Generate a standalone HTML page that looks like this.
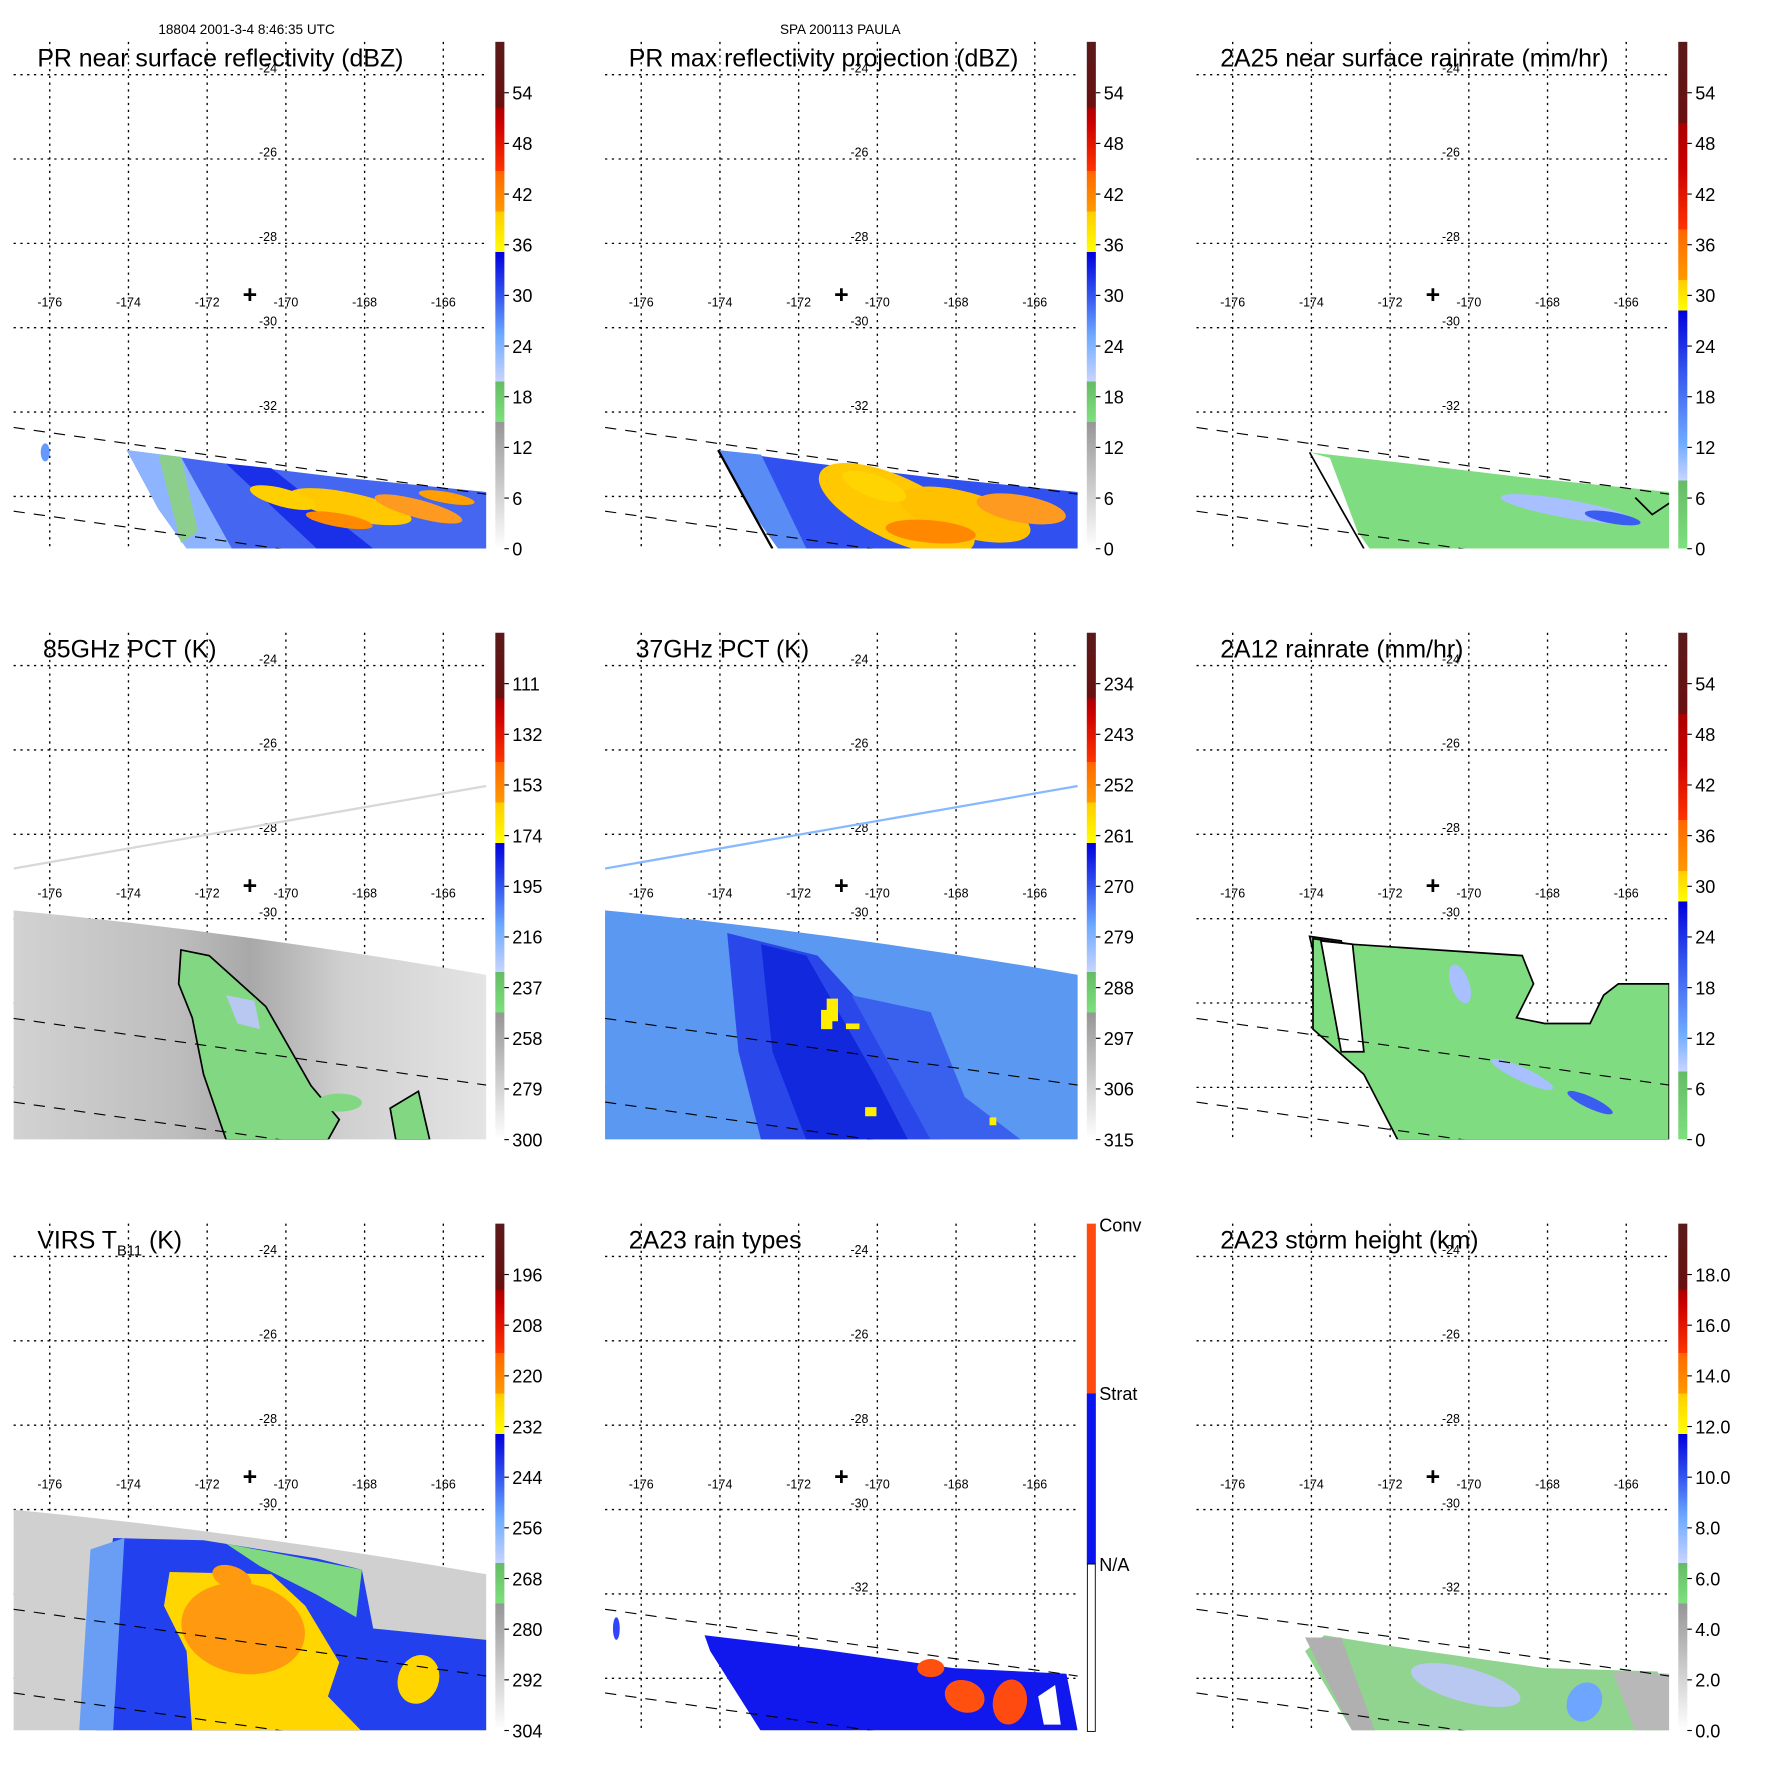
<!DOCTYPE html>
<html><head><meta charset="utf-8"><style>
html,body{margin:0;padding:0;background:#fff}
svg{display:block}
text{font-family:"Liberation Sans",sans-serif}
</style></head><body>
<svg id="s" width="1771" height="1771" viewBox="0 0 1566 1566" xmlns="http://www.w3.org/2000/svg">
<defs>
<linearGradient id="cbA" x1="0" y1="1" x2="0" y2="0">
<stop offset="0" stop-color="#ffffff"/><stop offset="0.25" stop-color="#969696"/>
<stop offset="0.25" stop-color="#7de07d"/><stop offset="0.33" stop-color="#66bb66"/>
<stop offset="0.33" stop-color="#c8d4ff"/><stop offset="0.42" stop-color="#6eaaff"/><stop offset="0.5" stop-color="#3355ee"/><stop offset="0.585" stop-color="#0000dd"/>
<stop offset="0.585" stop-color="#ffff00"/><stop offset="0.665" stop-color="#ffcc00"/>
<stop offset="0.665" stop-color="#ff9900"/><stop offset="0.745" stop-color="#ff6600"/>
<stop offset="0.745" stop-color="#ff3300"/><stop offset="0.84" stop-color="#cc0000"/><stop offset="0.87" stop-color="#aa0000"/>
<stop offset="0.87" stop-color="#6a1010"/><stop offset="1" stop-color="#5a1a1a"/>
</linearGradient>
<linearGradient id="cbC" x1="0" y1="1" x2="0" y2="0">
<stop offset="0" stop-color="#7de07d"/><stop offset="0.134" stop-color="#66bb66"/>
<stop offset="0.134" stop-color="#c8d4ff"/><stop offset="0.21" stop-color="#6eaaff"/><stop offset="0.35" stop-color="#3355ee"/><stop offset="0.47" stop-color="#0000dd"/>
<stop offset="0.47" stop-color="#ffff00"/><stop offset="0.53" stop-color="#ffcc00"/>
<stop offset="0.53" stop-color="#ff9900"/><stop offset="0.63" stop-color="#ff6600"/>
<stop offset="0.63" stop-color="#ff3300"/><stop offset="0.75" stop-color="#cc0000"/><stop offset="0.84" stop-color="#aa0000"/>
<stop offset="0.84" stop-color="#6a1010"/><stop offset="1" stop-color="#5a1a1a"/>
</linearGradient>
<linearGradient id="grayband" x1="0" y1="0" x2="1" y2="0">
<stop offset="0" stop-color="#d2d2d2"/><stop offset="0.35" stop-color="#bdbdbd"/><stop offset="0.5" stop-color="#a8a8a8"/><stop offset="0.7" stop-color="#d0d0d0"/><stop offset="1" stop-color="#e4e4e4"/>
</linearGradient>
</defs>
<g id="root"></g>
</svg>
<script>
var R=document.getElementById('root');var NS='http://www.w3.org/2000/svg';
function el(t,a,txt){var e=document.createElementNS(NS,t);for(var k in a)e.setAttribute(k,a[k]);if(txt!==undefined)e.textContent=txt;R.appendChild(e);return e;}
var cols=[0,523,1046],rows=[0,522.5,1045];
var titles=[["PR near surface reflectivity (dBZ)",33],["PR max reflectivity projection (dBZ)",33],["2A25 near surface rainrate (mm/hr)",33],
["85GHz PCT (K)",38],["37GHz PCT (K)",39],["2A12 rainrate (mm/hr)",33],[null,33],["2A23 rain types",33],["2A23 storm height (km)",33]];
var labs=[["54","48","42","36","30","24","18","12","6","0"],["54","48","42","36","30","24","18","12","6","0"],["54","48","42","36","30","24","18","12","6","0"],
["111","132","153","174","195","216","237","258","279","300"],["234","243","252","261","270","279","288","297","306","315"],["54","48","42","36","30","24","18","12","6","0"],
["196","208","220","232","244","256","268","280","292","304"],null,["18.0","16.0","14.0","12.0","10.0","8.0","6.0","4.0","2.0","0.0"]];
var cb=["cbA","cbA","cbC","cbA","cbA","cbC","cbA",null,"cbA"];
var pl="abcdefghi";
function data(i,ox,oy){
 function P(pts,f,extra){var s=pts.map(function(p){return (p[0]+ox)+','+(p[1]+oy)}).join(' ');var a={points:s,fill:f};for(var k in extra)a[k]=extra[k];el('polygon',a);}
 function E(x,y,rx,ry,f,rot){el('ellipse',{cx:x+ox,cy:y+oy,rx:rx,ry:ry,fill:f,transform:'rotate('+(rot||0)+' '+(x+ox)+' '+(y+oy)+')'});}
 var sw1=[[112,398],[200,410],[300,422],[430,435],[430,485],[165,485],[140,450]];
 if(i==0){P(sw1,'#4466f0');P([[112,398],[160,404],[205,485],[165,485],[140,450]],'#8fb4ff');P([[140,402],[160,404],[175,470],[160,480]],'#8ccf8c');
  P([[200,410],[240,414],[330,485],[280,485]],'#1a2fe8');
  E(310,448,55,12,'#ffc800',12);E(250,440,30,8,'#ffd000',15);E(370,450,40,8,'#ff9a20',15);E(300,460,30,6,'#ff8a00',10);E(395,440,25,5,'#ffa000',10);
  E(40,400,4,8,'#6699ff',0);}
 if(i==1){P(sw1,'#3050f0');P([[112,398],[150,402],[190,485],[165,485],[140,450]],'#5a8cf5');
  E(270,450,75,28,'#ffc800',25);E(330,455,60,20,'#ffc000',15);E(380,450,40,12,'#ff9a20',10);E(250,430,30,10,'#ffd400',20);E(300,470,40,10,'#ff8800',5);
  el('polyline',{points:[[112+ox,398+oy],[135+ox,440+oy],[160+ox,485+oy]].join(' '),fill:'none',stroke:'#000','stroke-width':2});}
 if(i==2){P([[112,400],[200,410],[300,422],[430,435],[430,485],[165,485],[140,450]],'#80dc80');
  P([[112,400],[130,405],[160,485],[150,485]],'#ffffff');
  E(340,450,60,8,'#a8c0ff',10);E(380,458,25,5,'#3a5cf0',10);
  el('polyline',{points:[[112+ox,400+oy],[140+ox,450+oy],[160+ox,485+oy]].join(' '),fill:'none',stroke:'#000','stroke-width':1.5});
  el('polyline',{points:[[400+ox,440+oy],[415+ox,455+oy],[430+ox,445+oy]].join(' '),fill:'none',stroke:'#000','stroke-width':1.5});}
 if(i==3){el('path',{d:'M'+(12+ox)+','+(805+oy)+' Q'+(220+ox)+','+(825+oy)+' '+(430+ox)+','+(862+oy)+' L'+(430+ox)+',1008 L'+(12+ox)+',1008 Z',fill:'url(#grayband)'});
  P([[160,840],[185,845],[235,890],[275,960],[300,990],[290,1008],[200,1008],[180,950],[170,900],[158,870]],'#82d882',{stroke:'#000','stroke-width':1.5});
  P([[200,880],[225,885],[230,910],[210,905]],'#b8c8f0');
  P([[345,980],[370,965],[380,1008],[350,1008]],'#82d882',{stroke:'#000','stroke-width':1.5});
  E(300,975,20,8,'#82d882',0);
  el('line',{x1:12+ox,y1:768+oy,x2:430+ox,y2:695+oy,stroke:'#d8d8d8','stroke-width':2});}
 if(i==4){el('path',{d:'M'+(12+ox)+','+(805+oy)+' Q'+(220+ox)+','+(825+oy)+' '+(430+ox)+','+(862+oy)+' L'+(430+ox)+',1008 L'+(12+ox)+',1008 Z',fill:'#5a98f2'});
  P([[120,825],[200,845],[250,900],[310,1008],[150,1008],[130,930]],'#2a48ea');
  P([[150,835],[190,845],[250,950],[280,1008],[190,1008],[160,930]],'#1228dd');
  P([[230,880],[300,895],[330,970],[380,1008],[300,1008]],'#3a60ee');
  P([[203,893],[213,893],[213,910],[203,910]],'#ffee00');P([[208,883],[218,883],[218,903],[208,903]],'#ffee00');
  P([[225,905],[237,905],[237,910],[225,910]],'#ffee00');P([[352,988],[358,988],[358,995],[352,995]],'#ffee00');
  P([[242,979],[252,979],[252,987],[242,987]],'#ffee00');
  el('line',{x1:12+ox,y1:768+oy,x2:430+ox,y2:695+oy,stroke:'#88b8ff','stroke-width':2});}
 if(i==5){P([[112,828],[140,832],[160,905],[130,905]],'#80dc80',{stroke:'#000','stroke-width':1.5});
  P([[150,835],[300,845],[310,870],[295,900],[320,905],[360,905],[372,880],[385,870],[430,870],[430,1008],[190,1008],[160,950],[115,910],[115,830]],'#80dc80',{stroke:'#000','stroke-width':1.5});
  P([[122,832],[150,835],[160,930],[140,930]],'#ffffff',{stroke:'#000','stroke-width':1.5});
  E(300,950,30,6,'#a8c0ff',25);E(360,975,22,5,'#3a5cf0',25);E(245,870,8,18,'#a8c0ff',-20);}
 if(i==6){el('path',{d:'M'+(12+ox)+','+(1335+oy-1045)+' Q'+(220+ox)+','+(1355+oy-1045)+' '+(430+ox)+','+(1392+oy-1045)+' L'+(430+ox)+','+(1531)+' L'+(12+ox)+',1531 Z',fill:'#d0d0d0'});
  P([[100,1360],[180,1362],[280,1378],[320,1388],[330,1440],[430,1450],[430,1531],[85,1531],[90,1420]].map(function(p){return [p[0],p[1]-1045]}),'#2240ee');
  P([[80,1370],[110,1360],[100,1531],[70,1531]].map(function(p){return [p[0],p[1]-1045]}),'#6a9ef5');
  P([[200,1365],[320,1388],[315,1430],[280,1410],[230,1385]].map(function(p){return [p[0],p[1]-1045]}),'#80d880');
  P([[150,1390],[240,1392],[270,1420],[300,1470],[290,1500],[320,1531],[170,1531],[165,1460],[145,1420]].map(function(p){return [p[0],p[1]-1045]}),'#ffd600');
  E(215,1440-1045,55,40,'#ff9a10',10);E(205,1395-1045,18,10,'#ff9a10',20);
  E(370,1485-1045,18,22,'#ffd600',20);}
 if(i==7){P([[100,1446],[200,1458],[320,1475],[420,1480],[430,1531],[150,1531],[105,1460]].map(function(p){return [p[0]+0,p[1]-1045]}),'#1018ee');
  E(330,1500-1045,18,14,'#ff5010',20);E(370,1505-1045,15,20,'#ff4a10',10);E(300,1475-1045,12,8,'#ff5010',0);
  P([[395,1500],[410,1490],[415,1525],[400,1525]].map(function(p){return [p[0],p[1]-1045]}),'#ffffff');
  E(22,1440-1045,3,10,'#3344ff',0);}
 if(i==8){P([[125,1446],[200,1458],[320,1475],[420,1478],[430,1531],[150,1531],[108,1460]].map(function(p){return [p[0],p[1]-1045]}),'#90d490');
  P([[108,1448],[140,1448],[170,1531],[150,1531]].map(function(p){return [p[0],p[1]-1045]}),'#b0b0b0');
  P([[380,1478],[430,1480],[430,1531],[400,1531]].map(function(p){return [p[0],p[1]-1045]}),'#b8b8b8');
  E(250,1490-1045,50,15,'#b8c8f0',15);E(355,1505-1045,15,18,'#6ea6ff',30);}
}
for(var r=0;r<3;r++)for(var c=0;c<3;c++){
 var i=r*3+c,ox=cols[c],oy=rows[r];
 var cp='cp'+i;
 var d=document.querySelector('defs');var cpe=document.createElementNS(NS,'clipPath');cpe.setAttribute('id',cp);var rc=document.createElementNS(NS,'rect');
 rc.setAttribute('x',12+ox);rc.setAttribute('y',37+oy);rc.setAttribute('width',418);rc.setAttribute('height',448);cpe.appendChild(rc);d.appendChild(cpe);
 var g=document.createElementNS(NS,'g');g.setAttribute('clip-path','url(#'+cp+')');document.getElementById('s').appendChild(g);
 var keep=R;R=g;data(i,ox,r==1?0:oy);
 el('line',{x1:12+ox,y1:378+oy,x2:430+ox,y2:437+oy,stroke:'#000','stroke-width':1,'stroke-dasharray':'10,8'});
 el('line',{x1:12+ox,y1:452+oy,x2:430+ox,y2:511+oy,stroke:'#000','stroke-width':1,'stroke-dasharray':'10,8'});
 R=keep;
 var lats=['-24','-26','-28','-30','-32','-34'];
 for(var k=0;k<6;k++){var y=66+k*74.6+oy;
  el('line',{x1:12+ox,y1:y,x2:430+ox,y2:y,stroke:'#000','stroke-width':1.2,'stroke-dasharray':'2,4'});
  el('text',{x:237+ox,y:y-2,'font-size':11,'text-anchor':'middle'},lats[k]);}
 var lons=['-176','-174','-172','-170','-168','-166'];
 for(var k=0;k<6;k++){var x=44+k*69.6+ox;
  el('line',{x1:x,y1:37+oy,x2:x,y2:485+oy,stroke:'#000','stroke-width':1.2,'stroke-dasharray':'2,4'});
  el('text',{x:x,y:271+oy,'font-size':11,'text-anchor':'middle'},lons[k]);}
 el('text',{x:221+ox,y:268+oy,'font-size':22,'font-weight':'bold','text-anchor':'middle'},'+');
 if(titles[i][0])el('text',{x:titles[i][1]+ox,y:59+oy,'font-size':22},titles[i][0]);
 else{var t=el('text',{x:33+ox,y:59+oy,'font-size':22},'');t.innerHTML='VIRS T<tspan font-size="13" dy="6">B11</tspan><tspan dy="-6"> (K)</tspan>';}
 el('text',{x:405+ox,y:463+oy,'font-size':22,'text-anchor':'middle'},'('+pl[i]+')');
 if(cb[i]){el('rect',{x:438+ox,y:37+oy,width:8,height:448,fill:'url(#'+cb[i]+')'});
  for(var k=0;k<10;k++){var y=82+k*44.8+oy;el('line',{x1:446+ox,y1:y,x2:450+ox,y2:y,stroke:'#000'});
   el('text',{x:453+ox,y:y+6,'font-size':16},labs[i][k]);}}
 else{el('rect',{x:961,y:1082,width:8,height:150,fill:'#ff4a10'});el('rect',{x:961,y:1232,width:8,height:151,fill:'#0a14ee'});
  el('rect',{x:961.5,y:1383,width:7,height:148,fill:'#fff',stroke:'#000','stroke-width':0.8});
  el('text',{x:972,y:1089,'font-size':16},'Conv');el('text',{x:972,y:1238,'font-size':16},'Strat');el('text',{x:972,y:1389,'font-size':16},'N/A');}
}
el('text',{x:218,y:30,'font-size':12,'text-anchor':'middle'},'18804 2001-3-4 8:46:35 UTC');
el('text',{x:743,y:30,'font-size':12,'text-anchor':'middle'},'SPA 200113 PAULA');
</script>
</body></html>
